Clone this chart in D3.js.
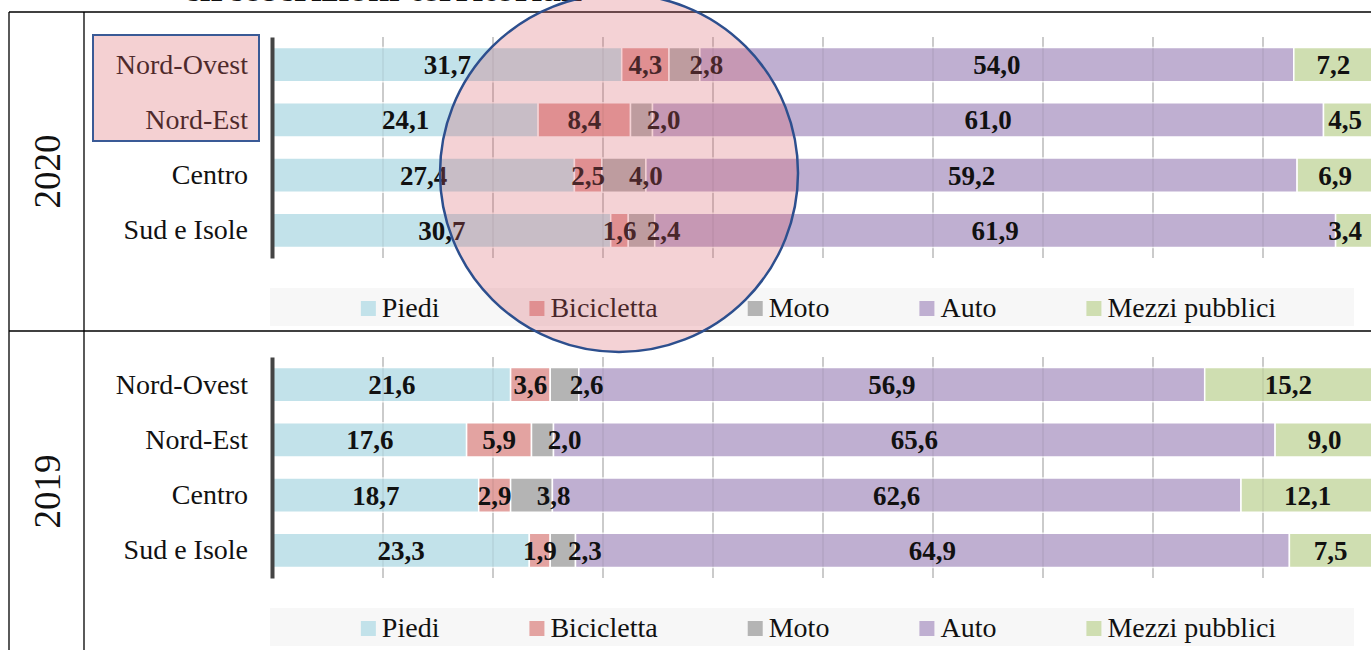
<!DOCTYPE html>
<html>
<head>
<meta charset="utf-8">
<script src="https://cdn.jsdelivr.net/npm/d3@7"></script>
<style>
  body { margin: 0; background: #fff; }
  svg { display: block; font-family: "Liberation Serif", "Times New Roman", serif; }
</style>
</head>
<body>
<svg id="chart" width="1371" height="650"></svg>
<script>
// categories and series
const regions = ["Nord-Ovest", "Nord-Est", "Centro", "Sud e Isole"];
const modes = ["Piedi", "Bicicletta", "Moto", "Auto", "Mezzi pubblici"];

const piedi2020 = [31.7, 24.1, 27.4, 30.7];
const bici2020 = [4.3, 8.4, 2.5, 1.6];
const moto2020 = [2.8, 2.0, 4.0, 2.4];
const auto2020 = [54.0, 61.0, 59.2, 61.9];
const mezzi2020 = [7.2, 4.5, 6.9, 3.4];

const piedi2019 = [21.6, 17.6, 18.7, 23.3];
const bici2019 = [3.6, 5.9, 2.9, 1.9];
const moto2019 = [2.6, 2.0, 3.8, 2.3];
const auto2019 = [56.9, 65.6, 62.6, 64.9];
const mezzi2019 = [15.2, 9.0, 12.1, 7.5];

const colors = ["#c2e2ea", "#e3a3a1", "#b4b4b4", "#bfafd1", "#cfdeb1"];

const svg = d3.select("#chart");

const x = d3.scaleLinear().domain([0, 100]).range([273, 1373]);
const y = d3.scaleBand().domain(regions).range([37, 258])
  .paddingInner(0.38).paddingOuter(0.19);

const fmt = d3.formatLocale({ decimal: ",", thousands: ".", grouping: [3], currency: ["", "€"] }).format(".1f");

// table frame
const frame = svg.append("g").attr("stroke", "#000").attr("stroke-width", 1.3);
frame.append("line").attr("x1", 9).attr("x2", 1371).attr("y1", 12).attr("y2", 12);
frame.append("line").attr("x1", 9).attr("x2", 1371).attr("y1", 331).attr("y2", 331);
frame.append("line").attr("x1", 9).attr("x2", 9).attr("y1", 12).attr("y2", 650);
frame.append("line").attr("x1", 84).attr("x2", 84).attr("y1", 12).attr("y2", 650);

// title, cut by the top edge of the page
svg.append("text")
  .attr("x", 183).attr("y", 1)
  .attr("font-size", 38).attr("font-weight", "bold").attr("fill", "#111")
  .text("circoscrizioni territoriali");

function drawPanel(series, year, offsetY) {
  const rows = regions.map((r, i) => {
    const o = { region: r };
    modes.forEach((m, j) => { o[m] = series[j][i]; });
    return o;
  });
  const stacked = d3.stack().keys(modes)(rows);

  const g = svg.append("g").attr("transform", `translate(0,${offsetY})`);

  // year cell
  g.append("text")
    .attr("transform", "translate(47,171.5) rotate(-90)")
    .attr("text-anchor", "middle").attr("dy", "0.35em")
    .attr("font-size", 37).attr("fill", "#111")
    .text(year);

  const ticks = x.ticks(10).filter(t => t > 0);
  const [y0, y1] = y.range();

  g.append("g").selectAll("line").data(ticks).join("line")
    .attr("x1", d => x(d)).attr("x2", d => x(d))
    .attr("y1", y0).attr("y2", y1)
    .attr("stroke", "#c8c8c8").attr("stroke-width", 1.5);

  const layers = g.append("g").selectAll("g").data(stacked).join("g")
    .attr("fill", (d, i) => colors[i]);

  layers.selectAll("rect").data(d => d).join("rect")
    .attr("x", d => x(d[0]))
    .attr("y", d => y(d.data.region))
    .attr("width", d => x(d[1]) - x(d[0]))
    .attr("height", y.bandwidth())
    .attr("stroke", "#fff").attr("stroke-width", 1.5);

  // grid showing faintly through the bars
  g.append("g").selectAll("line").data(ticks).join("line")
    .attr("x1", d => x(d)).attr("x2", d => x(d))
    .attr("y1", y0).attr("y2", y1)
    .attr("stroke", "rgba(0,0,0,0.07)").attr("stroke-width", 1.5);

  // category axis
  const axis = g.append("g")
    .attr("transform", "translate(272,0)")
    .call(d3.axisLeft(y).tickSize(0).tickSizeOuter(0).tickPadding(24));
  axis.select(".domain").attr("stroke", "#444").attr("stroke-width", 4);
  axis.selectAll("text")
    .attr("font-family", "Liberation Serif, serif")
    .attr("font-size", 28).attr("fill", "#111");

  // value labels, above every bar
  const labels = g.append("g");
  stacked.forEach((layer, li) => {
    labels.append("g").selectAll("text").data(layer).join("text")
      .attr("x", d => {
        let cx = (x(d[0]) + x(d[1])) / 2;
        if (modes[li] === "Moto") cx += 22;
        return Math.min(cx, 1345);
      })
      .attr("y", d => y(d.data.region) + y.bandwidth() / 2)
      .attr("dy", "0.35em")
      .attr("text-anchor", "middle")
      .attr("font-size", 27).attr("font-weight", "bold").attr("fill", "#111")
      .text(d => fmt(d[1] - d[0]));
  });

  // legend
  g.append("rect")
    .attr("x", 270).attr("y", 288).attr("width", 1084).attr("height", 38)
    .attr("fill", "#f7f7f7");
  const lg = g.append("g");
  const items = lg.selectAll("g").data(modes).join("g");
  items.append("rect")
    .attr("width", 15).attr("height", 15).attr("y", 301)
    .attr("fill", (d, i) => colors[i]);
  items.append("text")
    .attr("x", 21).attr("y", 317)
    .attr("font-size", 28).attr("fill", "#111")
    .text(d => d);
  const widths = [];
  items.each(function () { widths.push(21 + d3.select(this).select("text").node().getComputedTextLength()); });
  const gap = 90;
  const total = d3.sum(widths) + gap * (widths.length - 1);
  let cur = 818.5 - total / 2;
  items.attr("transform", (d, i) => {
    const t = `translate(${cur},0)`;
    cur += widths[i] + gap;
    return t;
  });
}

drawPanel([piedi2020, bici2020, moto2020, auto2020, mezzi2020], "2020", 0);
drawPanel([piedi2019, bici2019, moto2019, auto2019, mezzi2019], "2019", 320);

// highlight box on the first two regions of 2020
svg.append("rect")
  .attr("x", 93).attr("y", 35).attr("width", 166).attr("height", 106)
  .attr("fill", "rgba(220,100,105,0.3)")
  .attr("stroke", "#3a5a96").attr("stroke-width", 2);

// highlight circle
svg.append("circle")
  .attr("cx", 619).attr("cy", 173).attr("r", 179)
  .attr("fill", "rgba(215,95,105,0.28)")
  .attr("stroke", "#2d4f8e").attr("stroke-width", 2.5);
</script>
</body>
</html>
